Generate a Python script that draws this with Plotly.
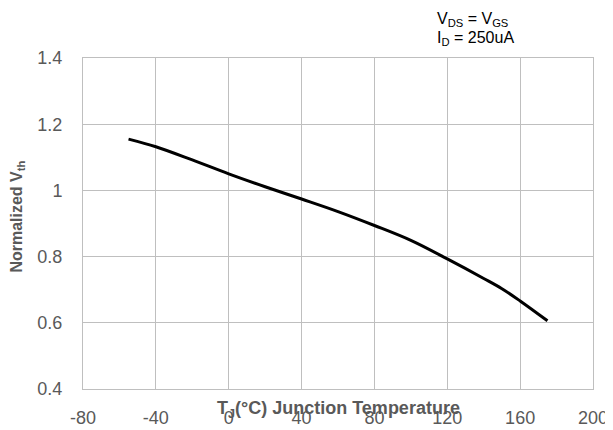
import plotly.graph_objects as go

temp_c = [-55, -40, -20, 0, 20, 40, 60, 80, 100, 120, 140, 150, 160, 175]
vth_norm = [1.155, 1.132, 1.092, 1.050, 1.011, 0.974, 0.936, 0.894, 0.849, 0.793, 0.734, 0.703, 0.666, 0.606]

x_ticks = [-80, -40, 0, 40, 80, 120, 160, 200]
x_tick_text = ["-80", "-40", "0", "40", "80", "120", "160", "200"]
y_ticks = [0.4, 0.6, 0.8, 1.0, 1.2, 1.4]
y_tick_text = ["0.4", "0.6", "0.8", "1", "1.2", "1.4"]

FONT = "Liberation Sans, Arial, sans-serif"
GRAY = "#595959"
GRID = "#bfbfbf"

fig = go.Figure()
fig.add_trace(go.Scatter(x=temp_c, y=vth_norm, mode="lines",
                         line=dict(color="black", width=3, shape="spline"),
                         showlegend=False))

fig.update_layout(
    width=605, height=422,
    margin=dict(l=75, r=20, t=50, b=41),
    paper_bgcolor="white", plot_bgcolor="white",
    font=dict(family=FONT, color=GRAY, size=18),
    xaxis=dict(range=[-80, 200], tickvals=x_ticks, ticktext=x_tick_text, showgrid=True,
               gridcolor=GRID, gridwidth=1, showline=True, linecolor=GRID, linewidth=1,
               mirror=True, zeroline=False, ticks="", ticklabelstandoff=12, automargin=False,
               tickfont=dict(size=18, color=GRAY, family=FONT)),
    yaxis=dict(range=[0.4, 1.4], tickvals=y_ticks, ticktext=y_tick_text, showgrid=True,
               gridcolor=GRID, gridwidth=1, showline=True, linecolor=GRID, linewidth=1,
               mirror=True, zeroline=False, ticks="", ticklabelstandoff=16, automargin=False,
               tickfont=dict(size=18, color=GRAY, family=FONT)),
    annotations=[
        dict(text="<b>Normalized V<sub>th</sub></b>", xref="paper", yref="paper",
             x=-0.128, y=0.52, xanchor="center", yanchor="middle", textangle=-90,
             showarrow=False, font=dict(size=16, color=GRAY, family=FONT)),
        dict(text="<b>T<sub>J</sub>(°C) Junction Temperature</b>", xref="paper", yref="paper",
             x=0.5, y=-0.063, xanchor="center", yanchor="middle", showarrow=False,
             font=dict(size=18, color=GRAY, family=FONT)),
        dict(text="V<sub>DS</sub> = V<sub>GS</sub>", xref="paper", yref="paper",
             x=0.691, y=1.115, xanchor="left", yanchor="middle", showarrow=False,
             font=dict(size=16, color="black", family=FONT)),
        dict(text="I<sub>D</sub> = 250uA", xref="paper", yref="paper",
             x=0.691, y=1.060, xanchor="left", yanchor="middle", showarrow=False,
             font=dict(size=16, color="black", family=FONT)),
    ],
)

fig.write_html("out.html")
